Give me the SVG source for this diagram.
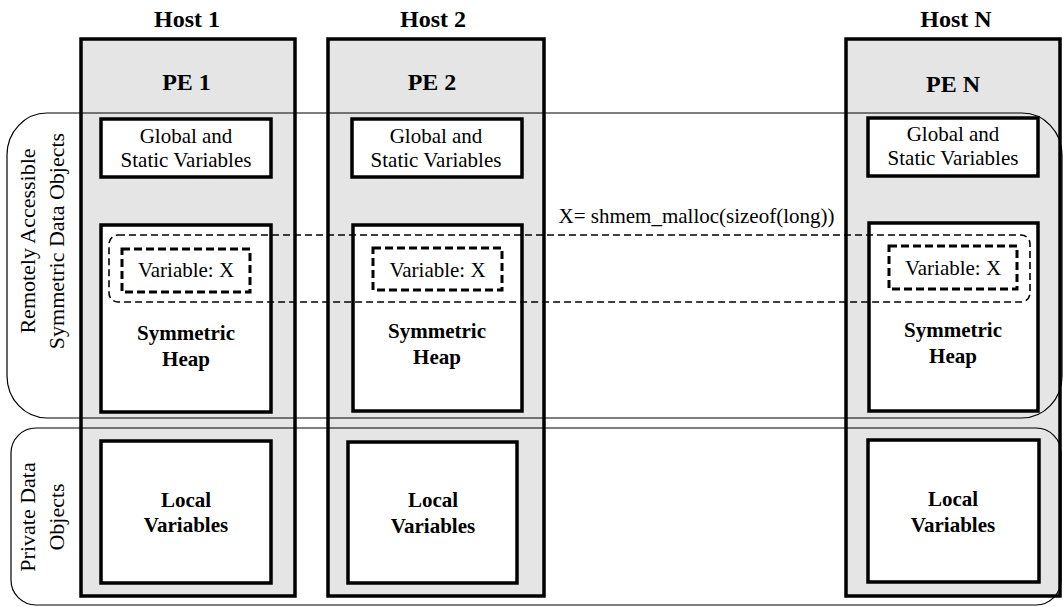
<svg xmlns="http://www.w3.org/2000/svg" width="1063" height="607" viewBox="0 0 1063 607" font-family="'Liberation Serif', 'DejaVu Serif', serif">
  <style>
    text { font-family: 'Liberation Serif', 'DejaVu Serif', serif; fill: #000; }
    .host { font-size: 24px; font-weight: bold; text-anchor: middle; }
    .pe { font-size: 24px; font-weight: bold; text-anchor: middle; }
    .reg { font-size: 21px; text-anchor: middle; }
    .bold { font-size: 21px; font-weight: bold; text-anchor: middle; }
    .side { font-size: 22px; text-anchor: middle; }
    .col { fill: #e5e5e5; stroke: #000; stroke-width: 3.5; }
    .box { fill: #fff; stroke: #000; stroke-width: 3.5; }
    .var { fill: #fff; stroke: #000; stroke-width: 3; stroke-dasharray: 8 4; }
    .region { fill: none; stroke: #000; stroke-width: 1.2; }
    .link { fill: none; stroke: #000; stroke-width: 1.6; stroke-dasharray: 7 4; }
  </style>

  <!-- Host columns -->
  <g id="host1">
    <text class="host" x="187" y="27">Host 1</text>
    <rect class="col" x="81" y="39" width="214" height="557"/>
    <text class="pe" x="186.5" y="90">PE 1</text>
  </g>
  <g id="host2">
    <text class="host" x="433" y="27">Host 2</text>
    <rect class="col" x="328" y="39" width="216" height="557"/>
    <text class="pe" x="432" y="90">PE 2</text>
  </g>
  <g id="hostN">
    <text class="host" x="956" y="27">Host N</text>
    <rect class="col" x="846" y="39" width="214" height="557"/>
    <text class="pe" x="953" y="92">PE N</text>
  </g>

  <!-- Regions -->
  <g id="region-symmetric">
    <rect class="region" x="7" y="113" width="1055" height="305" rx="40" ry="42"/>
    <text class="side" transform="translate(35,241) rotate(-90)">Remotely Accessible</text>
    <text class="side" transform="translate(64,241) rotate(-90)">Symmetric Data Objects</text>
  </g>
  <g id="region-private">
    <rect class="region" x="11" y="428" width="1050" height="177" rx="25" ry="25"/>
    <text class="side" transform="translate(35,517) rotate(-90)">Private Data</text>
    <text class="side" transform="translate(64,517) rotate(-90)">Objects</text>
  </g>

  <!-- Global and Static Variables -->
  <g id="global1">
    <rect class="box" x="101" y="119" width="170" height="58"/>
    <text class="reg" x="186" y="143">Global and</text>
    <text class="reg" x="186" y="167">Static Variables</text>
  </g>
  <g id="global2">
    <rect class="box" x="352" y="119" width="170" height="58"/>
    <text class="reg" x="436" y="143">Global and</text>
    <text class="reg" x="436" y="167">Static Variables</text>
  </g>
  <g id="globalN">
    <rect class="box" x="868" y="118" width="170" height="58"/>
    <text class="reg" x="953" y="141">Global and</text>
    <text class="reg" x="953" y="165">Static Variables</text>
  </g>

  <!-- Symmetric Heaps -->
  <g id="heap1">
    <rect class="box" x="101" y="225" width="170" height="187"/>
    <text class="bold" x="186" y="340">Symmetric</text>
    <text class="bold" x="186" y="366">Heap</text>
  </g>
  <g id="heap2">
    <rect class="box" x="353" y="225" width="169" height="186"/>
    <text class="bold" x="437" y="338">Symmetric</text>
    <text class="bold" x="437" y="364">Heap</text>
  </g>
  <g id="heapN">
    <rect class="box" x="869" y="223" width="169" height="188"/>
    <text class="bold" x="953" y="337">Symmetric</text>
    <text class="bold" x="953" y="363">Heap</text>
  </g>

  <!-- Variable X boxes -->
  <g id="var1">
    <rect class="var" x="122" y="249" width="128" height="43"/>
    <text class="reg" x="186" y="277">Variable: X</text>
  </g>
  <g id="var2">
    <rect class="var" x="373" y="248" width="129" height="42"/>
    <text class="reg" x="437.5" y="277">Variable: X</text>
  </g>
  <g id="varN">
    <rect class="var" x="889" y="246" width="128" height="43"/>
    <text class="reg" x="953" y="275">Variable: X</text>
  </g>

  <!-- Local Variables -->
  <g id="local1">
    <rect class="box" x="101" y="441" width="170" height="142"/>
    <text class="bold" x="186" y="507">Local</text>
    <text class="bold" x="186" y="532">Variables</text>
  </g>
  <g id="local2">
    <rect class="box" x="348" y="442" width="169" height="141"/>
    <text class="bold" x="433" y="507">Local</text>
    <text class="bold" x="433" y="533">Variables</text>
  </g>
  <g id="localN">
    <rect class="box" x="868" y="440" width="171" height="142"/>
    <text class="bold" x="953" y="506">Local</text>
    <text class="bold" x="953" y="532">Variables</text>
  </g>

  <!-- Connectors -->
  <g id="connectors">
    <rect class="link" x="109" y="235" width="921" height="67" rx="9" ry="9"/>
    <text class="reg" x="696.5" y="223">X= shmem_malloc(sizeof(long))</text>
  </g>
</svg>
